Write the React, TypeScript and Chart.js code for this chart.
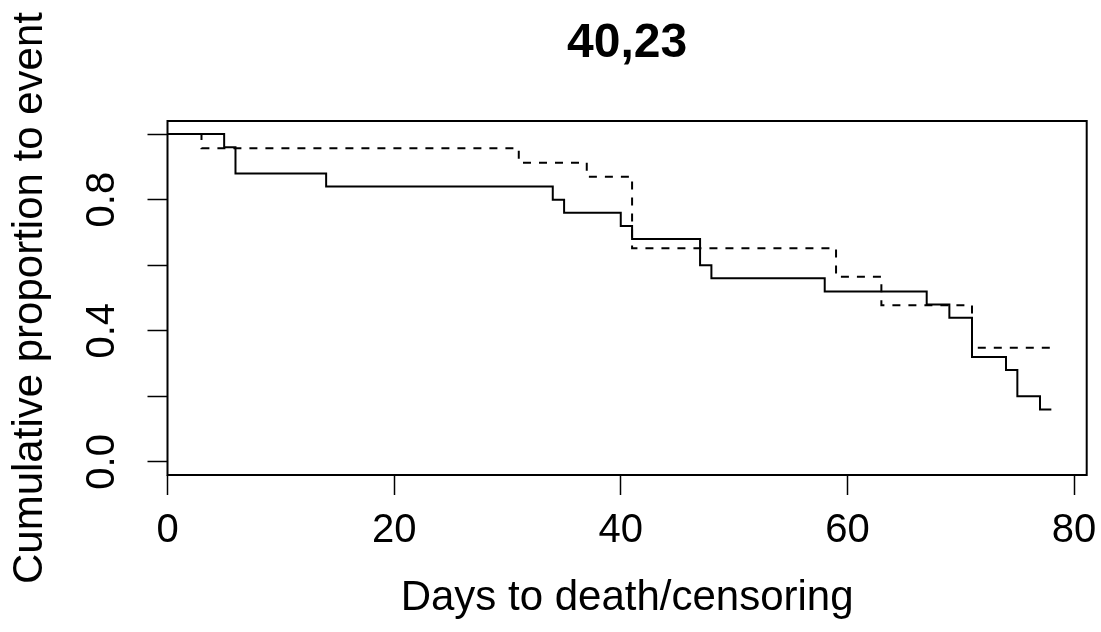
import React, { useEffect, useRef } from "react";
import { Chart, registerables } from "chart.js";

Chart.register(...registerables);

const chartTitle = "40,23";
const xAxisTitle = "Days to death/censoring";
const yAxisTitle = "Cumulative proportion to event";

const xTickValues = [0, 20, 40, 60, 80];
const yTickValues = [0, 0.2, 0.4, 0.6, 0.8, 1.0];
const yTickLabels = ["0.0", "", "0.4", "", "0.8", ""];

const solidTimes = [0, 5, 6, 14, 34, 35, 40, 41, 47, 48, 58, 67, 69, 71, 74, 75, 77, 78];
const solidSurv = [1, 0.96, 0.88, 0.84, 0.8, 0.76, 0.72, 0.68, 0.6, 0.56, 0.52, 0.48, 0.44, 0.32, 0.28, 0.2, 0.16, 0.16];

const dashTimes = [0, 3, 31, 37, 41, 59, 63, 71, 78];
const dashSurv = [1, 0.957, 0.913, 0.87, 0.652, 0.565, 0.478, 0.348, 0.348];

const FONT = "'Liberation Sans', Arial, Helvetica, sans-serif";

const boxPlugin = {
  id: "boxPlugin",
  afterLayout(chart: any) {
    const tb = chart.titleBlock;
    if (tb) {
      tb.left = chart.chartArea.left;
      tb.right = chart.chartArea.right;
      tb.width = tb.right - tb.left;
    }
  },
  afterDraw(chart: any) {
    const { ctx, chartArea } = chart;
    ctx.save();
    ctx.strokeStyle = "#000";
    ctx.lineWidth = 2;
    ctx.strokeRect(chartArea.left, chartArea.top, chartArea.right - chartArea.left, chartArea.bottom - chartArea.top);
    ctx.restore();
  },
};

export default function App() {
  const ref = useRef<HTMLCanvasElement | null>(null);
  useEffect(() => {
    document.body.style.margin = "0";
    const canvas = ref.current;
    if (!canvas) return;
    const chart = new Chart(canvas, {
      type: "scatter",
      data: {
        datasets: [
          {
            data: solidTimes.map((t, i) => ({ x: t, y: solidSurv[i] })),
            showLine: true,
            stepped: true,
            borderColor: "#000",
            borderWidth: 2,
            pointRadius: 0,
            fill: false,
          },
          {
            data: dashTimes.map((t, i) => ({ x: t, y: dashSurv[i] })),
            showLine: true,
            stepped: true,
            borderColor: "#000",
            borderWidth: 2,
            borderDash: [8, 8],
            pointRadius: 0,
            fill: false,
          },
        ],
      },
      options: {
        animation: false,
        responsive: false,
        layout: { padding: { left: 0, right: 14.3, top: 0, bottom: 0 } },
        plugins: {
          legend: { display: false },
          tooltip: { enabled: false },
          title: {
            display: true,
            text: chartTitle,
            color: "#000",
            font: { family: FONT, size: 48, weight: "bold" },
            padding: { top: 15, bottom: 48.4 },
          },
        },
        scales: {
          x: {
            type: "linear",
            min: 0,
            max: 81.12,
            offset: false,
            afterBuildTicks: (scale: any) => {
              scale.ticks = xTickValues.map((v) => ({ value: v }));
            },
            afterFit: (scale: any) => {
              scale.height = 157;
              scale.paddingLeft = 0;
              scale.paddingRight = 0;
            },
            ticks: {
              color: "#000",
              font: { family: FONT, size: 40 },
              padding: 12,
              maxRotation: 0,
              autoSkip: false,
              callback: (v: any) => String(v),
            },
            grid: {
              drawOnChartArea: false,
              drawTicks: true,
              tickLength: 20,
              tickColor: "#000",
              tickWidth: 1.5,
            },
            border: { display: false },
            title: {
              display: true,
              text: xAxisTitle,
              color: "#000",
              font: { family: FONT, size: 42 },
              padding: { top: 0, bottom: 8 },
            },
          },
          y: {
            type: "linear",
            min: -0.04,
            max: 1.04,
            afterBuildTicks: (scale: any) => {
              scale.ticks = yTickValues.map((v) => ({ value: v }));
            },
            afterFit: (scale: any) => {
              scale.width = 167.5;
              scale.paddingTop = 0;
              scale.paddingBottom = 0;
            },
            ticks: {
              color: "#000",
              font: { family: FONT, size: 40 },
              padding: 17,
              minRotation: 90,
              maxRotation: 90,
              crossAlign: "center",
              autoSkip: false,
              callback: (_v: any, i: number) => yTickLabels[i],
            },
            grid: {
              drawOnChartArea: false,
              drawTicks: true,
              tickLength: 20,
              tickColor: "#000",
              tickWidth: 1.5,
            },
            border: { display: false },
            title: {
              display: true,
              text: yAxisTitle,
              color: "#000",
              font: { family: FONT, size: 42 },
              padding: { top: 5, bottom: 0 },
            },
          },
        },
      },
      plugins: [boxPlugin],
    } as any);
    return () => chart.destroy();
  }, []);
  return (
    <div style={{ width: 1101, height: 632, background: "#fff" }}>
      <canvas ref={ref} width={1101} height={632} style={{ display: "block" }} />
    </div>
  );
}
